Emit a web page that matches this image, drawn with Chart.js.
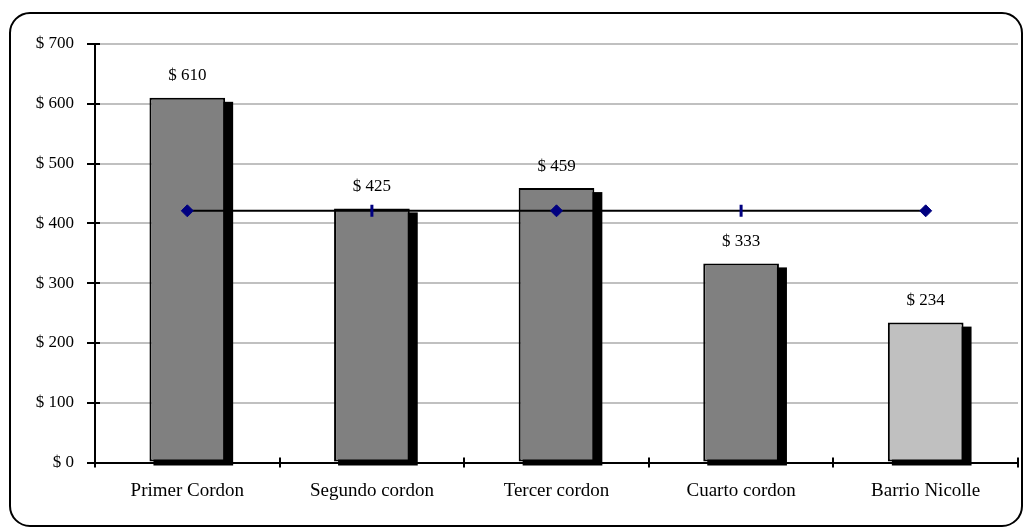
<!DOCTYPE html>
<html>
<head>
<meta charset="utf-8">
<script src="https://cdn.jsdelivr.net/npm/chart.js@4"></script>
<style>
  html,body{margin:0;padding:0;background:#fff;}
  #wrap{width:1025px;height:530px;position:relative;}
</style>
</head>
<body>
<div id="wrap"><canvas id="chart" width="1025" height="530"></canvas></div>
<script>
const categories = ['Primer Cordon','Segundo cordon','Tercer cordon','Cuarto cordon','Barrio Nicolle'];
const values = [610, 425, 459, 333, 234];
const average = [421, 421, 421, 421, 421];
const barColors = ['#808080','#808080','#808080','#808080','#c0c0c0'];
const markerStyles = ['rectRot','line','rectRot','line','rectRot'];
const markerRotation = [0, 90, 0, 90, 0];

const FONT = "'Liberation Serif', 'Times New Roman', serif";

// black offset shadow behind each bar
const shadowPlugin = {
  id:'shadow',
  beforeDatasetsDraw(chart){
    const meta = chart.getDatasetMeta(1);
    const ctx = chart.ctx;
    ctx.save();
    ctx.fillStyle = '#000';
    meta.data.forEach(bar=>{
      const left = bar.x - bar.width/2, right = bar.x + bar.width/2;
      ctx.fillRect(left+4, bar.y+4, right-left+4, bar.base-bar.y);
    });
    ctx.restore();
  }
};

// value labels, cross ticks, outer frame
const extrasPlugin = {
  id:'extras',
  afterDraw(chart){
    const ctx = chart.ctx;
    const area = chart.chartArea;
    ctx.save();
    // labels above bars
    ctx.font = '17px ' + FONT;
    ctx.fillStyle = '#000';
    ctx.textAlign = 'center';
    ctx.textBaseline = 'middle';
    chart.getDatasetMeta(1).data.forEach((bar,i)=>{
      ctx.fillText('$ ' + values[i], bar.x, bar.y - 22);
    });
    // inner half of cross tick marks
    ctx.strokeStyle = '#000';
    ctx.lineWidth = 2;
    const ys = chart.scales.y;
    ys.ticks.forEach(t=>{
      const py = Math.round(ys.getPixelForValue(t.value));
      ctx.beginPath(); ctx.moveTo(area.left, py); ctx.lineTo(area.left+5, py); ctx.stroke();
    });
    const xs = chart.scales.x;
    for(let i=0;i<=categories.length;i++){
      const px = Math.round(xs.getPixelForValue(i-0.5));
      ctx.beginPath(); ctx.moveTo(px, area.bottom); ctx.lineTo(px, area.bottom-5); ctx.stroke();
    }
    // frame
    ctx.lineWidth = 2;
    ctx.beginPath();
    ctx.roundRect(10, 13, 1012, 513, 20);
    ctx.stroke();
    ctx.restore();
  }
};

new Chart(document.getElementById('chart'), {
  data:{
    labels: categories,
    datasets:[
      {
        type:'line',
        data: average,
        order:0,
        borderColor:'#000',
        borderWidth:2,
        pointStyle: markerStyles,
        rotation: markerRotation,
        pointRadius:[6,6,6,6,6],
        pointBackgroundColor:'#000080',
        pointBorderColor:'#000080',
        pointBorderWidth:[1,3,1,3,1],
        tension:0
      },
      {
        type:'bar',
        data: values,
        order:1,
        backgroundColor: barColors,
        borderColor:'#000',
        borderWidth:2,
        borderSkipped:false,
        barPercentage:0.41,
        categoryPercentage:1
      }
    ]
  },
  plugins:[shadowPlugin, extrasPlugin],
  options:{
    responsive:false,
    animation:false,
    events:[],
    layout:{ padding:{ top:44, right:7, bottom:0, left:0 } },
    plugins:{ legend:{display:false}, tooltip:{enabled:false} },
    scales:{
      x:{
        offset:true,
        grid:{ display:true, offset:true, drawOnChartArea:false, color:'#000', lineWidth:2, tickLength:5 },
        border:{ color:'#000', width:2 },
        ticks:{ font:{ family:FONT, size:19 }, color:'#000', padding:12 },
        afterFit(s){ s.height = 67.5; }
      },
      y:{
        min:0, max:700,
        ticks:{ stepSize:100, font:{ family:FONT, size:17 }, color:'#000', padding:13,
          callback:v=>'$ ' + v },
        grid:{ color:'#c0c0c0', lineWidth:2, tickColor:'#000', tickWidth:2, tickLength:8 },
        border:{ color:'#000', width:2 },
        afterFit(s){ s.width = 95; }
      }
    }
  }
});
</script>
</body>
</html>
